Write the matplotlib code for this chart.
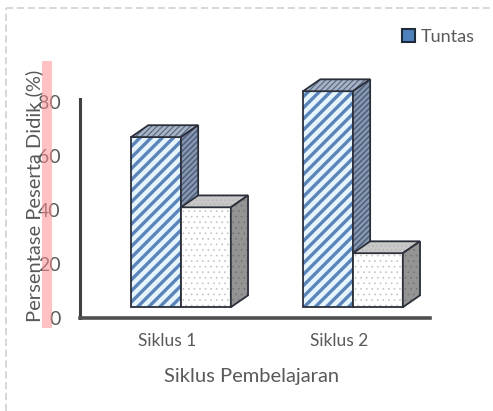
import matplotlib
matplotlib.use("Agg")
import matplotlib.pyplot as plt
import matplotlib.patches as mpatches
from matplotlib.lines import Line2D
import numpy as np

categories = ["Siklus 1", "Siklus 2"]
tuntas = [63, 80]          # height of the "Tuntas" bars above the 3D floor
belum_tuntas = [37, 20]    # second series (not named in the legend)
y_ticks = [0, 20, 40, 60, 80]

_TEXT = "#595959"
_EDGE = "#2b2f3a"

plt.rcParams["font.family"] = ["Lato", "DejaVu Sans"]

fig = plt.figure(figsize=(4.93, 4.11), dpi=100)
ax = fig.add_axes([80 / 493, 1 - 318 / 411, 350 / 493, 270 / 411])

floor = 4.0          # bars stand on the 3D floor, slightly above the axis
w = 0.29             # bar width in category units
dx, dy = 0.10, 4.4   # 3D depth offset
x = np.arange(len(categories))


def face(pts, fc, hatch, hatch_col, lw_hatch):
    with plt.rc_context({"hatch.linewidth": lw_hatch, "hatch.color": hatch_col}):
        ax.add_patch(mpatches.Polygon(pts, closed=True, facecolor=fc, hatch=hatch,
                                      edgecolor=hatch_col, linewidth=0, clip_on=False))
    ax.add_patch(mpatches.Polygon(pts, closed=True, facecolor="none",
                                  edgecolor=_EDGE, linewidth=1.3, clip_on=False))


def box(x0, h, style):
    x1 = x0 + w
    y0, y1 = floor, floor + h
    face([(x0, y0), (x1, y0), (x1, y1), (x0, y1)], *style["front"])
    face([(x0, y1), (x1, y1), (x1 + dx, y1 + dy), (x0 + dx, y1 + dy)], *style["top"])
    face([(x1, y0), (x1 + dx, y0 + dy), (x1 + dx, y1 + dy), (x1, y1)], *style["side"])


tuntas_style = {
    "front": ("#e6f4fc", "///", "#5a84ba", 2.4),
    "top":   ("#a9b5c6", "//////", "#5a6b88", 0.9),
    "side":  ("#8797b0", "//////", "#4a5b78", 1.0),
}
belum_style = {
    "front": ("#ffffff", "...", "#c4c4c4", 0.5),
    "top":   ("#c8c8c8", "....", "#b0b0b0", 0.4),
    "side":  ("#949494", "...", "#767676", 0.5),
}

for i in x:
    box(i - w, tuntas[i], tuntas_style)
    box(i, belum_tuntas[i], belum_style)

ax.set_xlim(-0.587, 1.448)
ax.set_ylim(0, 100)
ax.patch.set_alpha(0)
for s in ("top", "right"):
    ax.spines[s].set_visible(False)
ax.spines["left"].set_bounds(0, 81)
ax.spines["left"].set_color("#404040")
ax.spines["left"].set_linewidth(2.2)
ax.spines["bottom"].set_color("#505050")
ax.spines["bottom"].set_linewidth(2.6)

ax.set_yticks(y_ticks)
ax.set_yticklabels([str(t) for t in y_ticks], fontsize=14, color=_TEXT)
ax.tick_params(axis="y", length=0, pad=14)
ax.set_xticks(x - 0.08)
ax.set_xticklabels(categories, fontsize=12.5, color=_TEXT)
ax.tick_params(axis="x", length=0, pad=11)

fig.text(252 / 493, 1 - 376 / 411, "Siklus Pembelajaran", fontsize=14.5,
         color=_TEXT, ha="center", va="center")
fig.text(34 / 493, 1 - 196 / 411, "Persentase Peserta Didik (%)", fontsize=14.5,
         color=_TEXT, ha="center", va="center", rotation=90)

handle = mpatches.Patch(facecolor="#4f81bd", edgecolor="#1f2a3a", linewidth=1.5, label="Tuntas")
fig.legend(handles=[handle], loc="center left", bbox_to_anchor=(386 / 493, 1 - 37 / 411),
           frameon=False, fontsize=13, handlelength=0.7, handleheight=0.7,
           handletextpad=0.35, labelcolor=_TEXT)

# pink highlight band over the tick labels
fig.add_artist(mpatches.Rectangle((42 / 493, 1 - 328 / 411), 10 / 493, 267 / 411,
                                  transform=fig.transFigure, facecolor="#ff8f8f",
                                  alpha=0.55, edgecolor="none", zorder=10))

# dashed chart border
fig.add_artist(Line2D([6 / 493, 1.0], [1 - 8 / 411] * 2, transform=fig.transFigure,
                      color="#d4d4d4", linestyle=(0, (4, 2)), linewidth=1.3))
fig.add_artist(Line2D([6 / 493] * 2, [0.0, 1 - 8 / 411], transform=fig.transFigure,
                      color="#d4d4d4", linestyle=(0, (4, 2)), linewidth=1.3))

fig.savefig("out.png", dpi=100)
